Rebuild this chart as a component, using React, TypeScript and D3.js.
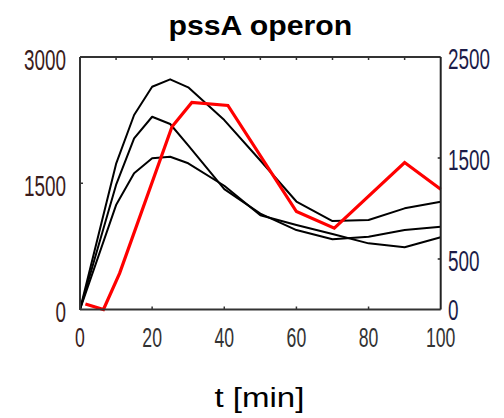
import React from "react";
import * as d3 from "d3";

const times = [0, 10, 15, 20, 25, 30, 40, 50, 60, 70, 80, 90, 100];
const seriesA = [0, 1730, 2311, 2647, 2735, 2640, 2251, 1770, 1283, 1051, 1063, 1202, 1281];
const seriesB = [0, 1480, 2034, 2290, 2204, 1950, 1430, 1140, 944, 834, 865, 944, 984];
const seriesC = [0, 1241, 1618, 1796, 1815, 1737, 1470, 1120, 1004, 897, 786, 739, 858];

const redTimes = [1.5, 6.5, 11, 25.5, 31, 41, 60, 70.5, 90, 100];
const redValues = [55, 0, 360, 1810, 2050, 2020, 970, 805, 1455, 1190];

const xTickLabels = [0, 20, 40, 60, 80, 100];
const xMinorTicks = [10, 20, 30, 40, 50, 60, 70, 80, 90];
const xBottomTicks = [20, 40, 60, 80];
const leftTicks = [0, 1500, 3000];
const rightTicks = [0, 500, 1500, 2500];

const title = "pssA operon";
const xLabel = "t [min]";

const W = 504;
const H = 418;
const M = { left: 80, right: 440.7, top: 57, bottom: 309.5 };
const FONT = "'Liberation Sans', Arial, Helvetica, sans-serif";

export default function App() {
  const x = d3.scaleLinear().domain([0, 100]).range([M.left, M.right]);
  const yL = d3.scaleLinear().domain([0, 3000]).range([M.bottom, M.top]);
  const yR = d3.scaleLinear().domain([0, 2500]).range([M.bottom, M.top]);

  const lineL = d3
    .line<number>()
    .x((_, i) => x(times[i]))
    .y((d) => yL(d));
  const lineR = d3
    .line<number>()
    .x((_, i) => x(redTimes[i]))
    .y((d) => yR(d));

  const tickFs = 30;
  const sx = 0.63;

  return (
    <svg
      width={W}
      height={H}
      style={{ position: "absolute", left: 0, top: 0, background: "#fff" }}
      fontFamily={FONT}
    >
      {/* title */}
      <text
        transform={`translate(${(M.left + M.right) / 2},34.5) scale(1.12,1)`}
        textAnchor="middle"
        fontSize={27}
        fontWeight="bold"
        fill="#000"
      >
        {title}
      </text>

      {/* data lines */}
      {[seriesA, seriesB, seriesC].map((s, k) => (
        <path key={k} d={lineL(s) || ""} fill="none" stroke="#000" strokeWidth={2} strokeLinejoin="round" />
      ))}
      <path d={lineR(redValues) || ""} fill="none" stroke="#ff0000" strokeWidth={3.2} />

      {/* frame */}
      <line x1={M.left} y1={M.top} x2={M.right} y2={M.top} stroke="#333" strokeWidth={2} />
      <line x1={M.left} y1={M.bottom} x2={M.right} y2={M.bottom} stroke="#333" strokeWidth={2} />
      <line x1={M.left} y1={M.top} x2={M.left} y2={M.bottom} stroke="#333" strokeWidth={2} />
      <line x1={M.right} y1={M.top} x2={M.right} y2={M.bottom} stroke="#222" strokeWidth={2} />

      {/* x ticks */}
      {xMinorTicks.map((t) => (
        <line key={"tt" + t} x1={x(t)} x2={x(t)} y1={M.top} y2={M.top + 3} stroke="#333" strokeWidth={1.5} />
      ))}
      {xBottomTicks.map((t) => (
        <line key={"bt" + t} x1={x(t)} x2={x(t)} y1={M.bottom} y2={M.bottom - 3} stroke="#333" strokeWidth={1.5} />
      ))}
      {leftTicks
        .filter((v) => v > 0 && v < 3000)
        .map((v) => (
          <line key={"lt" + v} x1={M.left} x2={M.left + 3} y1={yL(v)} y2={yL(v)} stroke="#333" strokeWidth={1.5} />
        ))}
      {rightTicks
        .filter((v) => v > 0 && v < 2500)
        .map((v) => (
          <line key={"rt" + v} x1={M.right} x2={M.right - 3} y1={yR(v)} y2={yR(v)} stroke="#222" strokeWidth={1.5} />
        ))}

      {/* x tick labels */}
      {xTickLabels.map((t) => (
        <text
          key={"xl" + t}
          transform={`translate(${x(t)},347) scale(${sx},1)`}
          textAnchor="middle"
          fontSize={28}
          fill={t === 0 ? "#3a1c1c" : "#333"}
        >
          {t}
        </text>
      ))}

      {/* left labels */}
      {leftTicks.map((v) => (
        <text
          key={"ll" + v}
          transform={`translate(66,${yL(v) + 12.5}) scale(${sx},1)`}
          textAnchor="end"
          fontSize={tickFs}
          fill="#3a1c1c"
        >
          {v}
        </text>
      ))}

      {/* right labels */}
      {rightTicks.map((v) => (
        <text
          key={"rl" + v}
          transform={`translate(448,${yR(v) + (v === 0 ? 10.5 : 12)}) scale(${sx},1)`}
          textAnchor="start"
          fontSize={tickFs}
          fill="#1c1c48"
        >
          {v}
        </text>
      ))}

      {/* x label */}
      <text
        transform={`translate(${(M.left + M.right) / 2 - 1},406.5) scale(1.18,1)`}
        textAnchor="middle"
        fontSize={28}
        fill="#000"
      >
        {xLabel}
      </text>
    </svg>
  );
}
